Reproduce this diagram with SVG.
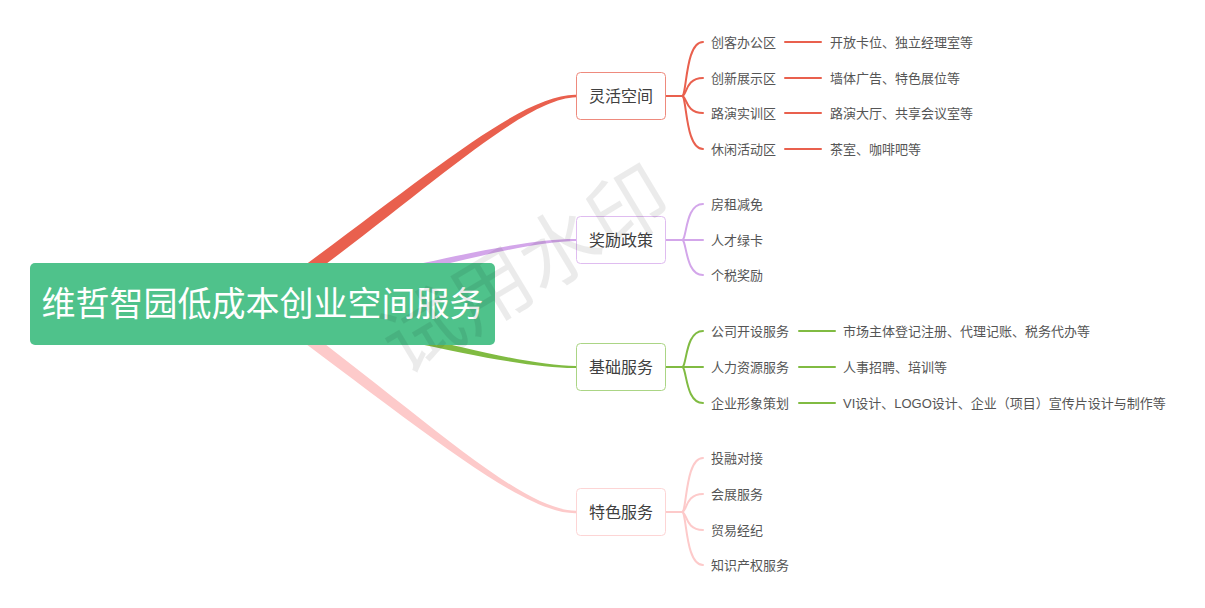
<svg xmlns="http://www.w3.org/2000/svg" width="1205" height="608" viewBox="0 0 1205 608">
<style>
  text { font-family: "Liberation Sans", "Noto Sans CJK SC", sans-serif; }
  .box { fill: #ffffff; stroke-width: 1; }
  .boxt { font-size: 16px; fill: #404040; text-anchor: middle; dominant-baseline: central; }
  .ct { font-size: 13px; fill: #555555; dominant-baseline: central; }
  .br { fill: none; stroke-width: 2; stroke-linecap: round; }
  .red { stroke: #e9604e; }
  .pur { stroke: #d3a6ea; }
  .grn { stroke: #80bb42; }
  .pnk { stroke: #fdcaca; }
</style>
<rect x="0" y="0" width="1205" height="608" fill="#ffffff"/>

<g id="connectors">
  <!-- main tapered branches -->
  <path d="M258.5,299.1 C416.5,185.1 519,93.8 576,94.8 L576,97.2 C521,98.6 423.5,194.9 265.5,308.9 Z" fill="#e9604e"/>
  <path d="M261.1,300.1 C419.1,264.1 520,238.6 576,239 L576,241 C520,241.6 420.9,271.9 262.9,307.9 Z" fill="#d3a6ea"/>
  <path d="M262.9,300.1 C420.9,336.1 520,365.6 576,366 L576,368 C520,368.6 419.1,343.9 261.1,307.9 Z" fill="#80bb42"/>
  <path d="M265.5,299.2 C423.5,415.2 519,510 576,510.8 L576,513.2 C521,514.2 416.5,424.8 258.5,308.8 Z" fill="#fdcaca"/>

  <!-- 灵活空间 brackets -->
  <g class="br red">
    <path d="M666,96 H682"/>
    <path d="M682,96 C687,96 685,42 703,42"/>
    <path d="M682,96 C687,96 685,78 703,78"/>
    <path d="M682,96 C687,96 685,113 703,113"/>
    <path d="M682,96 C687,96 685,149 703,149"/>
    <path d="M785,42 H821"/>
    <path d="M785,78 H821"/>
    <path d="M785,113 H821"/>
    <path d="M785,149 H821"/>
  </g>
  <!-- 奖励政策 brackets -->
  <g class="br pur">
    <path d="M666,240 H703"/>
    <path d="M682,240 C687,240 685,204 703,204"/>
    <path d="M682,240 C687,240 685,275 703,275"/>
  </g>
  <!-- 基础服务 brackets -->
  <g class="br grn">
    <path d="M666,367 H703"/>
    <path d="M682,367 C687,367 685,331 703,331"/>
    <path d="M682,367 C687,367 685,403 703,403"/>
    <path d="M799,331 H835"/>
    <path d="M799,367 H835"/>
    <path d="M799,403 H835"/>
  </g>
  <!-- 特色服务 brackets -->
  <g class="br pnk">
    <path d="M666,512 H682"/>
    <path d="M682,512 C687,512 685,458 703,458"/>
    <path d="M682,512 C687,512 685,494 703,494"/>
    <path d="M682,512 C687,512 685,530 703,530"/>
    <path d="M682,512 C687,512 685,565 703,565"/>
  </g>
</g>

<g id="root">
  <rect x="30" y="263" width="465" height="82" rx="5" fill="#4fc28b"/>
  <text x="262.5" y="304" font-size="34" fill="#ffffff" text-anchor="middle" dominant-baseline="central">维哲智园低成本创业空间服务</text>
</g>

<g id="node-linghuo">
  <rect class="box" x="576.5" y="72.5" width="89" height="47" rx="4" stroke="#ee8a7d"/>
  <text class="boxt" x="621" y="96">灵活空间</text>
</g>
<g id="node-jiangli">
  <rect class="box" x="576.5" y="216.5" width="89" height="47" rx="4" stroke="#dfbcf0"/>
  <text class="boxt" x="621" y="240">奖励政策</text>
</g>
<g id="node-jichu">
  <rect class="box" x="576.5" y="343.5" width="89" height="47" rx="4" stroke="#abd585"/>
  <text class="boxt" x="621" y="367">基础服务</text>
</g>
<g id="node-tese">
  <rect class="box" x="576.5" y="488.5" width="89" height="47" rx="4" stroke="#fdd5d5"/>
  <text class="boxt" x="621" y="512">特色服务</text>
</g>

<g id="children-linghuo">
  <text class="ct" x="711" y="42">创客办公区</text>
  <text class="ct" x="711" y="78">创新展示区</text>
  <text class="ct" x="711" y="113">路演实训区</text>
  <text class="ct" x="711" y="149">休闲活动区</text>
  <text class="ct" x="830" y="42">开放卡位、独立经理室等</text>
  <text class="ct" x="830" y="78">墙体广告、特色展位等</text>
  <text class="ct" x="830" y="113">路演大厅、共享会议室等</text>
  <text class="ct" x="830" y="149">茶室、咖啡吧等</text>
</g>
<g id="children-jiangli">
  <text class="ct" x="711" y="204">房租减免</text>
  <text class="ct" x="711" y="240">人才绿卡</text>
  <text class="ct" x="711" y="275">个税奖励</text>
</g>
<g id="children-jichu">
  <text class="ct" x="711" y="331">公司开设服务</text>
  <text class="ct" x="711" y="367">人力资源服务</text>
  <text class="ct" x="711" y="403">企业形象策划</text>
  <text class="ct" x="843" y="331">市场主体登记注册、代理记账、税务代办等</text>
  <text class="ct" x="843" y="367">人事招聘、培训等</text>
  <text class="ct" x="843" y="403">VI设计、LOGO设计、企业（项目）宣传片设计与制作等</text>
</g>
<g id="children-tese">
  <text class="ct" x="711" y="458">投融对接</text>
  <text class="ct" x="711" y="494">会展服务</text>
  <text class="ct" x="711" y="530">贸易经纪</text>
  <text class="ct" x="711" y="565">知识产权服务</text>
</g>

<g id="watermark">
  <text x="522" y="264" font-size="80" fill="#000000" fill-opacity="0.08" text-anchor="middle" dominant-baseline="central" transform="rotate(-31 522 264)" style="font-family: 'Noto Sans CJK SC', sans-serif;">试用水印</text>
</g>
</svg>
